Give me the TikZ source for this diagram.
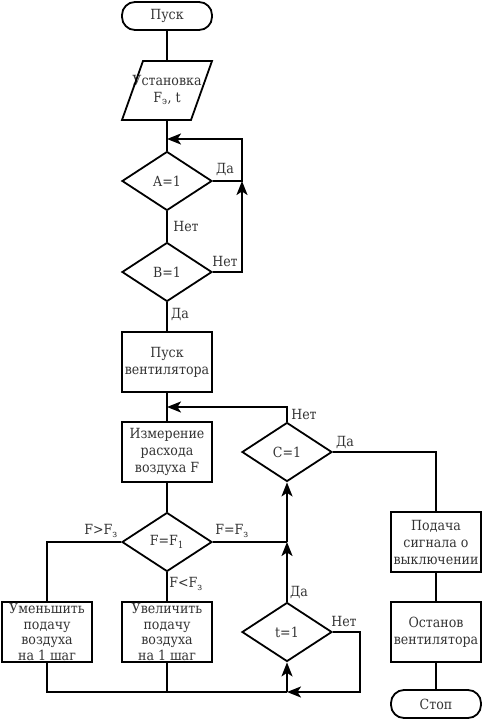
\documentclass[tikz,border=0pt]{standalone}
\usepackage{fontspec}
\setmainfont{DejaVu Serif Condensed}
\usetikzlibrary{shapes.geometric,arrows.meta}
\tikzset{
  base/.style={draw=black, line width=1.8pt, inner sep=0pt, align=center, font=\fontsize{14}{17}\selectfont, text=black!80},
  term/.style={base, rounded corners=13pt, minimum width=90pt, minimum height=28pt},
  proc/.style={base, rectangle, minimum width=90pt, minimum height=60pt},
  proc4/.style={proc, font=\fontsize{14}{15.5}\selectfont},
  dec/.style={base, diamond, minimum width=90pt, minimum height=59pt},
  io/.style={inner sep=0pt, align=center, font=\fontsize{14}{17}\selectfont, text=black!80, minimum width=70pt, minimum height=59pt},
  lbl/.style={inner sep=0pt, font=\fontsize{14}{15}\selectfont, text=black!80},
  line/.style={line width=1.8pt},
  arr/.style={line width=1.8pt, -{Stealth[length=14pt,width=11pt,inset=3.5pt]}}
}
\begin{document}
\begin{tikzpicture}[x=1pt,y=-1pt]
\useasboundingbox (0,0) rectangle (483,723);
% nodes
\node[term] (start) at (167,16) {Пуск};
\node[io] (set) at (167,90) {Установка\\F\textsubscript{э}, t};
\draw[line] (143,61) -- (212,61) -- (191,120) -- (122,120) -- cycle;
\node[dec] (A) at (167,181) {A=1};
\node[dec] (B) at (167,272) {B=1};
\node[proc] (fan) at (167,362) {Пуск\\вентилятора};
\node[proc] (meas) at (167,452) {Измерение\\расхода\\воздуха F};
\node[dec] (F) at (167,542) {F=F\textsubscript{1}};
\node[proc4] (dec1) at (47,632) {Уменьшить\\подачу\\воздуха\\на 1 шаг};
\node[proc4] (inc1) at (167,632) {Увеличить\\подачу\\воздуха\\на 1 шаг};
\node[dec] (C) at (287,452) {C=1};
\node[dec] (T) at (287,632) {t=1};
\node[proc] (sig) at (436,542) {Подача\\сигнала о\\выключении};
\node[proc] (stop1) at (436,632) {Останов\\вентилятора};
\node[term] (stop) at (436,704) {Стоп};
% coordinates
\coordinate (j1) at (167,139);
\coordinate (r1) at (242,139);
\coordinate (r2) at (242,181);
\coordinate (r3) at (242,272);
\coordinate (j2) at (167,407);
\coordinate (c1) at (287,407);
\coordinate (fe) at (287,542);
\coordinate (fl) at (47,542);
\coordinate (bl) at (47,692);
\coordinate (bm) at (167,692);
\coordinate (bt) at (287,692);
\coordinate (br) at (360,692);
\coordinate (tr) at (360,632);
\coordinate (cr) at (436,452);
% connectors
\draw[line] (start) -- (167,61);
\draw[line] (167,120) -- (A.north);
\draw[arr] (A.east) -- (r2) -- (r1) -- (j1);
\draw[arr] (B.east) -- (r3) -- (r2);
\draw[line] (A.south) -- (B.north);
\draw[line] (B.south) -- (fan.north);
\draw[line] (fan.south) -- (meas.north);
\draw[arr] (C.north) -- (c1) -- (j2);
\draw[line] (meas.south) -- (F.north);
\draw[line] (F.west) -- (fl) -- (dec1.north);
\draw[line] (F.south) -- (inc1.north);
\draw[line] (F.east) -- (fe);
\draw[arr] (T.north) -- (fe);
\draw[arr] (fe) -- (C.south);
\draw[line] (dec1.south) -- (bl) -- (bt);
\draw[line] (inc1.south) -- (bm);
\draw[arr] (T.east) -- (tr) -- (br) -- (bt);
\draw[arr] (bt) -- (T.south);
\draw[line] (C.east) -- (cr) -- (sig.north);
\draw[line] (sig.south) -- (stop1.north);
\draw[line] (stop1.south) -- (stop.north);
% labels
\node[lbl] at (225,169) {Да};
\node[lbl] at (186,226) {Нет};
\node[lbl] at (225,261) {Нет};
\node[lbl] at (180,314) {Да};
\node[lbl] at (304,414) {Нет};
\node[lbl] at (345,442) {Да};
\node[lbl] at (101,531) {F>F\textsubscript{з}};
\node[lbl] at (232,531) {F=F\textsubscript{з}};
\node[lbl] at (186,584) {F<F\textsubscript{з}};
\node[lbl] at (299,592) {Да};
\node[lbl] at (344,621) {Нет};
\end{tikzpicture}
\end{document}
